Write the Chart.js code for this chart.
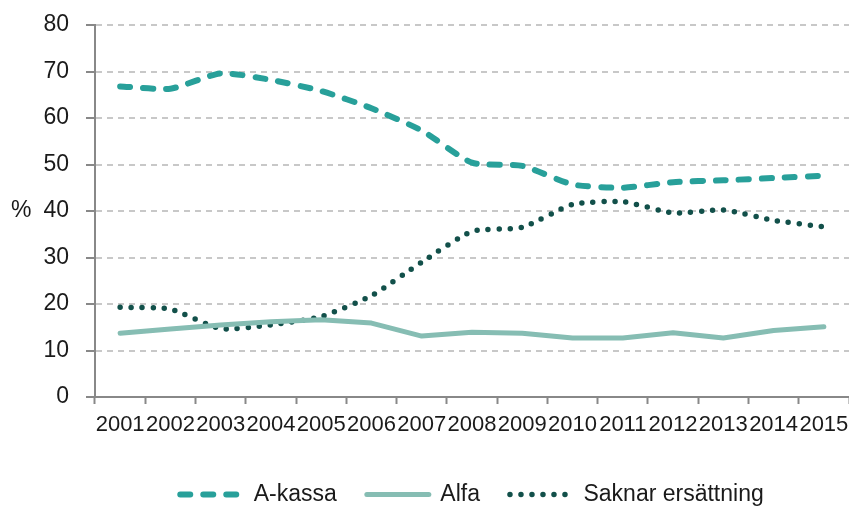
<!DOCTYPE html>
<html>
<head>
<meta charset="utf-8">
<script src="https://cdn.jsdelivr.net/npm/chart.js@4/dist/chart.umd.min.js"></script>
<style>
  html, body { margin: 0; padding: 0; background: #fff; }
  #wrap { width: 849px; height: 507px; }
</style>
</head>
<body>
<div id="wrap"><canvas id="chart"></canvas></div>
<script>
const years = ['2001', '2002', '2003', '2004', '2005', '2006', '2007', '2008', '2009', '2010', '2011', '2012', '2013', '2014', '2015'];
const aKassa = [66.8, 66.3, 69.6, 68.2, 65.8, 62.1, 57.3, 50.4, 49.7, 45.7, 45.0, 46.2, 46.6, 47.1, 47.6];
const alfa = [13.7, 14.6, 15.5, 16.2, 16.6, 15.9, 13.1, 13.9, 13.7, 12.7, 12.7, 13.8, 12.7, 14.3, 15.1];
const saknar = [19.3, 18.9, 14.7, 15.5, 17.3, 21.8, 29.0, 35.6, 36.5, 41.4, 42.0, 39.6, 40.2, 38.0, 36.6];
const yMin = 0;
const yMax = 80;
const yStep = 10;

const FONT = '"Liberation Sans", Arial, sans-serif';
const TEXT = '#1a1a1a';
const AXIS = '#888888';

// "%" next to the y axis, horizontal
const percentLabel = {
  id: 'percentLabel',
  afterDraw(chart) {
    const { ctx, chartArea } = chart;
    ctx.save();
    ctx.font = '23px ' + FONT;
    ctx.fillStyle = TEXT;
    ctx.textBaseline = 'middle';
    ctx.fillText('%', 11, (chartArea.top + chartArea.bottom) / 2);
    ctx.restore();
  }
};

// legend samples drawn with each dataset's own line style
function legendItems(chart) {
  return chart.data.datasets.map((ds, i) => ({
    text: ds.label,
    datasetIndex: i,
    fillStyle: ds.borderColor,
    strokeStyle: ds.borderColor,
    lineWidth: ds.borderWidth,
    lineDash: ds.borderDash || [],
    lineCap: 'round',
    pointStyle: 'line',
    fontColor: TEXT,
    hidden: false
  }));
}

new Chart(document.getElementById('chart'), {
  type: 'line',
  data: {
    labels: years,
    datasets: [
      { label: 'A-kassa', data: aKassa, borderColor: '#28a09a', borderWidth: 6, borderDash: [10, 13], borderCapStyle: 'round', borderJoinStyle: 'round', tension: 0.2 },
      { label: 'Alfa', data: alfa, borderColor: '#86bdb3', borderWidth: 5, borderCapStyle: 'round', borderJoinStyle: 'round', tension: 0 },
      { label: 'Saknar ersättning', data: saknar, borderColor: '#12504a', borderWidth: 5.5, borderDash: [0, 11], borderCapStyle: 'round', borderJoinStyle: 'round', tension: 0.2 }
    ]
  },
  options: {
    responsive: true,
    maintainAspectRatio: false,
    animation: false,
    layout: { padding: { top: 25, right: 0, left: 0, bottom: -9 } },
    elements: { point: { radius: 0, hoverRadius: 0 } },
    plugins: {
      tooltip: { enabled: false },
      legend: {
        position: 'bottom',
        fullSize: false,
        labels: {
          usePointStyle: true,
          pointStyle: 'line',
          pointStyleWidth: 62,
          padding: 30,
          color: TEXT,
          font: { family: FONT, size: 23 },
          generateLabels: legendItems
        }
      }
    },
    scales: {
      x: {
        offset: true,
        afterFit: (scale) => { scale.height = 56; scale.paddingLeft = 0; scale.paddingRight = 0; },
        grid: { drawOnChartArea: false, offset: true, tickLength: 7, tickColor: AXIS, tickWidth: 2 },
        border: { color: AXIS, width: 2 },
        ticks: { autoSkip: false, maxRotation: 0, minRotation: 0, padding: 8, color: TEXT, font: { family: FONT, size: 22 } }
      },
      y: {
        min: yMin,
        max: yMax,
        afterFit: (scale) => { scale.width = 95; scale.paddingTop = 0; scale.paddingBottom = 0; },
        grid: { color: '#c8c8c8', lineWidth: 2, tickLength: 9, tickColor: AXIS, tickWidth: 2 },
        border: { color: AXIS, width: 2, dash: [6, 5] },
        ticks: { stepSize: yStep, padding: 17, color: TEXT, font: { family: FONT, size: 23 } }
      }
    }
  },
  plugins: [percentLabel]
});
</script>
</body>
</html>
